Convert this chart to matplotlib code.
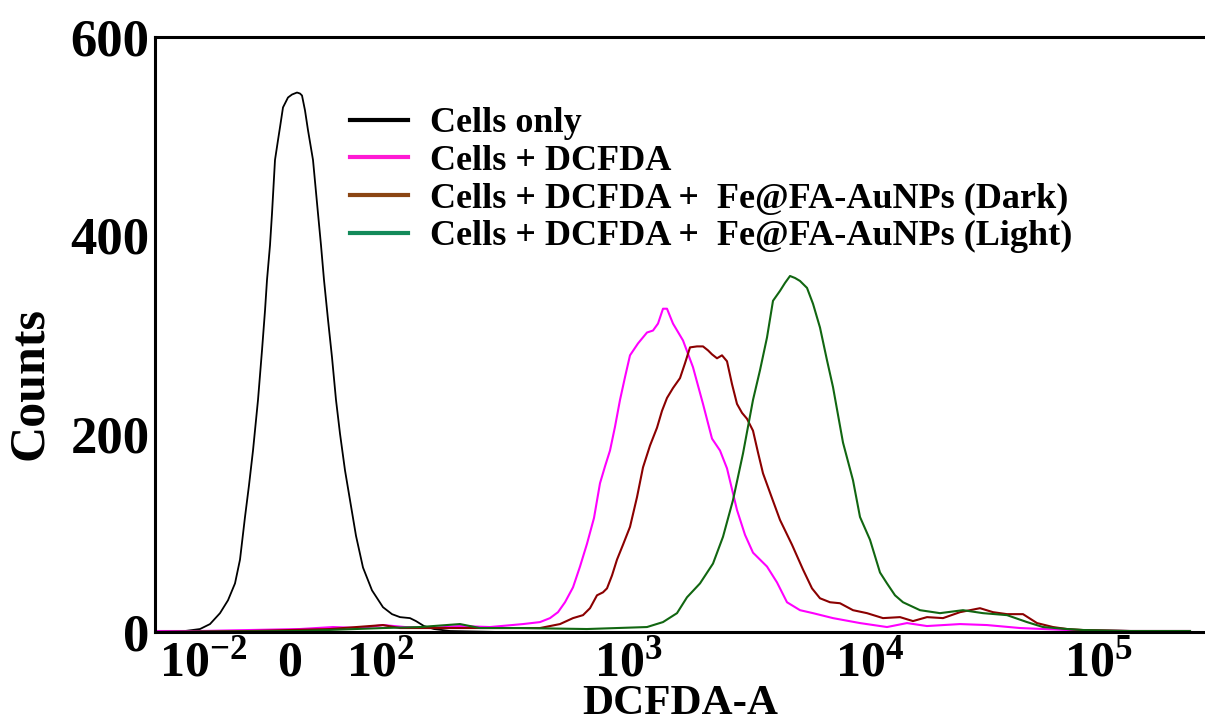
import matplotlib.pyplot as plt
from matplotlib.lines import Line2D

# channel positions along the DCFDA-A axis (biexponential display), counts per channel
black_ch = [0, 30, 45, 55, 65, 73, 80, 85, 90, 94, 98, 103, 107, 110, 112, 115, 117, 120, 123, 125,
            128, 133, 137, 142, 145, 147, 150, 153, 158, 163, 166, 169, 173, 177, 181, 185, 190, 195, 201, 208,
            217, 228, 237, 245, 255, 261, 269, 279, 295, 345]
black_ct = [0, 1, 3, 8, 19, 32, 49, 73, 116, 148, 183, 234, 284, 324, 355, 390, 422, 476, 496, 509,
            529, 539, 542, 544, 543, 541, 526, 506, 476, 422, 390, 355, 315, 277, 234, 200, 163, 133, 97, 65,
            42, 25, 18, 15, 14, 11, 6, 3, 1, 0]

mag_ch = [0, 45, 95, 145, 178, 205, 228, 250, 275, 305, 335, 368, 385, 395, 403, 410, 418, 425, 432, 439,
          445, 450, 455, 460, 465, 470, 475, 483, 492, 498, 503, 508, 512, 518, 528, 538, 548, 557, 565, 572,
          582, 590, 598, 612, 622, 632, 645, 658, 678, 705, 732, 752, 772, 805, 832, 865, 912, 975, 1035]
mag_ct = [1, 1, 2, 3, 5, 4, 7, 5, 4, 6, 5, 8, 10, 14, 20, 30, 45, 66, 89, 115,
          150, 167, 183, 207, 234, 257, 279, 291, 302, 304, 311, 326, 326, 311, 294, 267, 230, 195, 183, 165,
          123, 98, 80, 66, 50, 30, 22, 19, 14, 9, 5, 9, 6, 8, 7, 4, 2, 1, 1]

dark_ch = [0, 95, 175, 228, 245, 295, 345, 385, 405, 418, 428, 435, 442, 448, 452, 457, 462, 468, 475, 482,
           488, 495, 502, 507, 512, 518, 525, 530, 535, 542, 548, 553, 557, 562, 567, 572, 577, 582, 587, 592,
           598, 603, 608, 617, 625, 637, 648, 657, 665, 675, 685, 698, 712, 728, 745, 758, 772, 788, 805, 825,
           838, 852, 868, 882, 898, 912, 928, 975, 1035]
dark_ct = [0, 1, 3, 7, 4, 4, 4, 4, 8, 14, 17, 24, 37, 40, 44, 57, 73, 88, 106, 136,
           166, 188, 206, 223, 236, 246, 256, 271, 287, 288, 288, 284, 280, 276, 279, 273, 250, 230, 221, 215,
           203, 181, 160, 135, 113, 88, 63, 44, 34, 30, 29, 22, 19, 14, 15, 11, 15, 14, 20, 24,
           20, 18, 18, 9, 5, 3, 2, 1, 1]

light_ch = [0, 145, 228, 265, 305, 325, 365, 432, 492, 508, 522, 532, 545, 558, 568, 578, 588, 598, 605, 612,
            618, 625, 630, 635, 640, 645, 652, 658, 665, 672, 678, 683, 688, 698, 705, 715, 725, 732, 740, 748,
            765, 785, 808, 828, 852, 872, 888, 912, 928, 975, 1035]
light_ct = [0, 1, 4, 5, 8, 4, 4, 3, 5, 10, 19, 35, 49, 69, 96, 133, 180, 234, 264, 297,
            334, 344, 352, 359, 357, 354, 347, 331, 307, 274, 247, 219, 191, 153, 116, 93, 60, 49, 37, 30,
            22, 19, 22, 19, 17, 10, 5, 3, 2, 1, 1]

tick_pos = [48, 135, 225, 473, 715, 943]
tick_labels = [r'$10^{-2}$', r'$0$', r'$10^{2}$', r'$10^{3}$', r'$10^{4}$', r'$10^{5}$']

legend_labels = ['Cells only', 'Cells + DCFDA',
                 'Cells + DCFDA +  Fe@FA-AuNPs (Dark)',
                 'Cells + DCFDA +  Fe@FA-AuNPs (Light)']

plt.rcParams['font.family'] = 'Liberation Serif'
plt.rcParams['font.weight'] = 'bold'
plt.rcParams['mathtext.fontset'] = 'custom'
plt.rcParams['mathtext.rm'] = 'Liberation Serif:bold'
plt.rcParams['mathtext.bf'] = 'Liberation Serif:bold'
plt.rcParams['mathtext.default'] = 'rm'

fig = plt.figure(figsize=(12.05, 7.24), dpi=100)
ax = fig.add_axes([155/1205, 92/724, 1050/1205, 595/724])

ax.plot(black_ch, black_ct, color='black', linewidth=1.3)
ax.plot(mag_ch, mag_ct, color='#ff00ff', linewidth=1.5)
ax.plot(dark_ch, dark_ct, color='#8b0000', linewidth=1.5)
ax.plot(light_ch, light_ct, color='#116611', linewidth=1.5)

ax.set_xlim(0, 1050)
ax.set_ylim(0, 600)
ax.set_yticks([0, 200, 400, 600])
ax.set_yticklabels(['0', '200', '400', '600'], fontsize=38, fontweight='bold')
ax.set_xticks(tick_pos)
ax.set_xticklabels(tick_labels, fontsize=36)
ax.tick_params(axis='both', length=0)
ax.tick_params(axis='y', pad=4)
ax.tick_params(axis='x', pad=6)

for s in ['left', 'bottom', 'top']:
    ax.spines[s].set_linewidth(2.2)
ax.spines['right'].set_visible(False)

ax.set_xlabel('DCFDA-A', fontsize=31, fontweight='bold')
ax.xaxis.set_label_coords(0.5, -0.138)
ax.xaxis.label.set_va('baseline')
ax.set_ylabel('Counts', fontsize=36, fontweight='bold')
ax.yaxis.set_label_coords(-0.119, 0.418)
ax.yaxis.label.set_va('center')

handles = [Line2D([], [], color='black', linewidth=3),
           Line2D([], [], color='#ff19d4', linewidth=3),
           Line2D([], [], color='#8b4513', linewidth=3),
           Line2D([], [], color='#138a5a', linewidth=3)]
ax.legend(handles, legend_labels, loc='upper left', bbox_to_anchor=(0.186, 0.882),
          frameon=False, handlelength=1.6, handletextpad=0.6,
          labelspacing=0.12, borderpad=0, borderaxespad=0,
          prop={'family': 'Liberation Serif', 'weight': 'bold', 'size': 26})

fig.savefig('out.png', dpi=100)
